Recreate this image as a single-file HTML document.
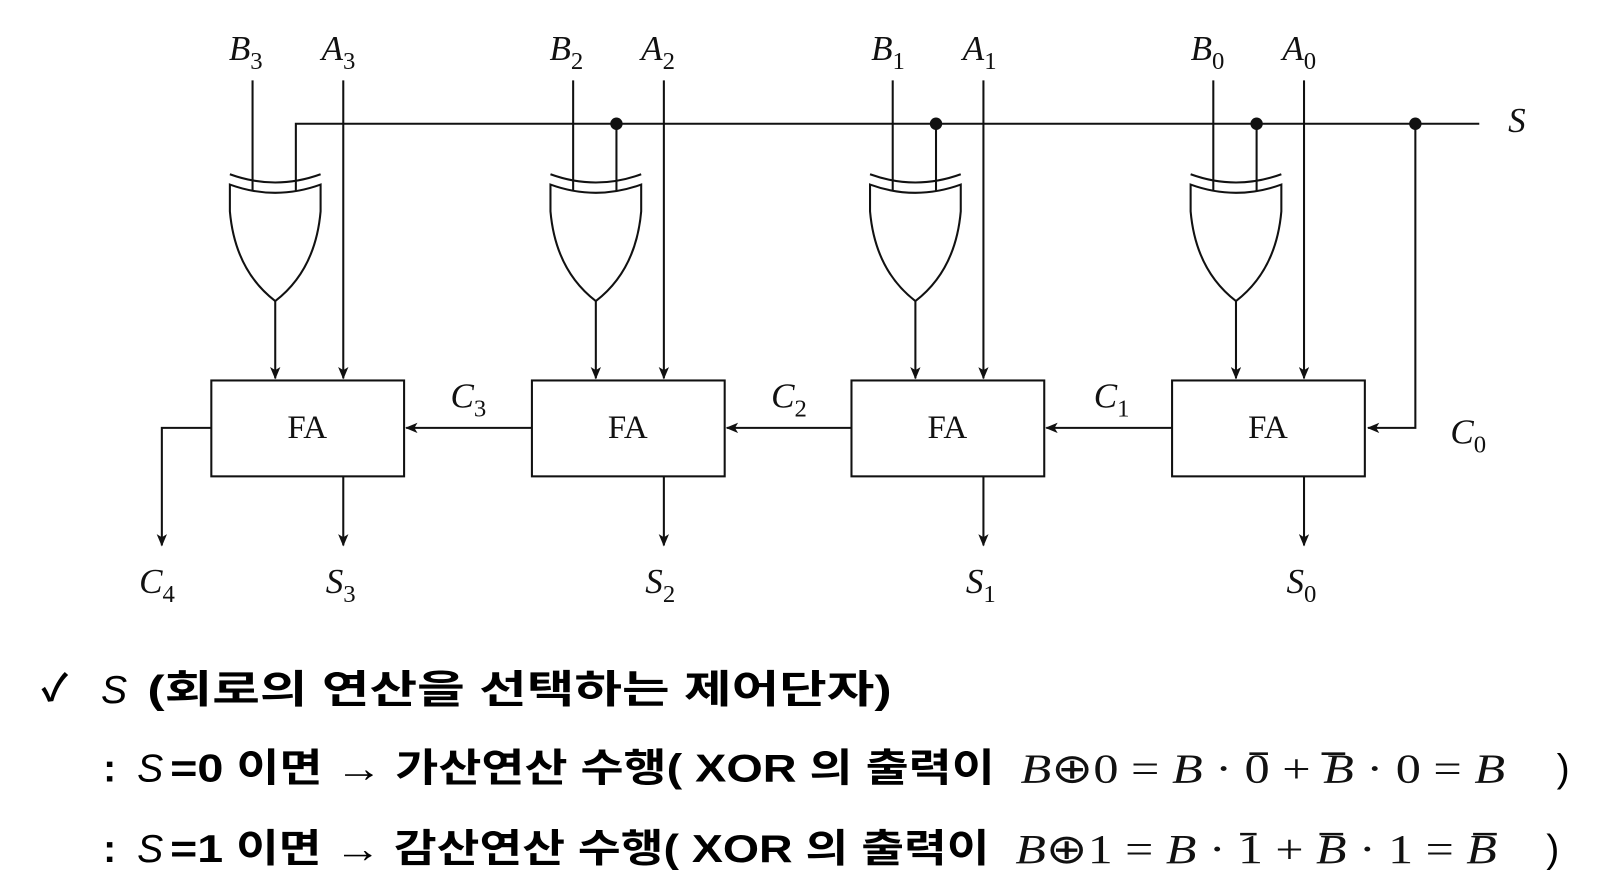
<!DOCTYPE html>
<html><head><meta charset="utf-8"><style>
html,body{margin:0;padding:0;background:#fff;}
svg{display:block;}
.ser{font-family:"Liberation Serif",serif;font-style:italic;fill:#111;}
.sub{font-family:"Liberation Serif",serif;font-style:normal;}
.ko{font-family:"Liberation Sans","Noto Sans CJK KR","NanumGothic",sans-serif;font-weight:bold;fill:#000;}
</style></head><body>
<svg width="1604" height="896" viewBox="0 0 1556 869" preserveAspectRatio="none" xmlns="http://www.w3.org/2000/svg">
<defs>
<marker id="ar" markerWidth="12" markerHeight="10" refX="11" refY="5" orient="auto" markerUnits="userSpaceOnUse">
<path d="M0,0 L12,5 L0,10 L3,5 Z" fill="#111"/></marker>
<g id="st" fill="none" stroke="#111" stroke-width="2">
<path d="M223,179 Q267,195 311,179 L311,205 Q306,262 267,292 Q228,262 223,205 Z"/>
<path d="M223,169 Q267,185 311,169"/>
<line x1="245" y1="78" x2="245" y2="185"/>
<line x1="267" y1="292" x2="267" y2="367" marker-end="url(#ar)"/>
<line x1="333" y1="78" x2="333" y2="367" marker-end="url(#ar)"/>
<rect x="205" y="369" width="187" height="93"/>
<line x1="333" y1="462" x2="333" y2="529" marker-end="url(#ar)"/>
</g>
</defs>
<use href="#st"/>
<use href="#st" x="311"/>
<use href="#st" x="621"/>
<use href="#st" x="932"/>
<g fill="none" stroke="#111" stroke-width="2">
<polyline points="287,185 287,120 1435,120"/>
<line x1="598" y1="120" x2="598" y2="185"/>
<line x1="908" y1="120" x2="908" y2="185"/>
<line x1="1219" y1="120" x2="1219" y2="185"/>
<polyline points="1373,120 1373,415 1327,415" marker-end="url(#ar)"/>
<line x1="516" y1="415" x2="394" y2="415" marker-end="url(#ar)"/>
<line x1="826" y1="415" x2="705" y2="415" marker-end="url(#ar)"/>
<line x1="1137" y1="415" x2="1015" y2="415" marker-end="url(#ar)"/>
<polyline points="205,415 157,415 157,529" marker-end="url(#ar)"/>
</g>
<g fill="#111"><circle cx="598" cy="120" r="6"/><circle cx="908" cy="120" r="6"/><circle cx="1219" cy="120" r="6"/><circle cx="1373" cy="120" r="6"/></g>
<g font-family="Liberation Serif,serif" font-size="32" fill="#111" text-anchor="middle">
<text x="298" y="425">FA</text><text x="609" y="425">FA</text><text x="919" y="425">FA</text><text x="1230" y="425">FA</text>
</g>
<g class="ser" font-size="34">
<text x="222" y="58">B<tspan class="sub" font-size="24" dy="9">3</tspan></text>
<text x="312" y="58">A<tspan class="sub" font-size="24" dy="9">3</tspan></text>
<text x="533" y="58">B<tspan class="sub" font-size="24" dy="9">2</tspan></text>
<text x="622" y="58">A<tspan class="sub" font-size="24" dy="9">2</tspan></text>
<text x="845" y="58">B<tspan class="sub" font-size="24" dy="9">1</tspan></text>
<text x="934" y="58">A<tspan class="sub" font-size="24" dy="9">1</tspan></text>
<text x="1155" y="58">B<tspan class="sub" font-size="24" dy="9">0</tspan></text>
<text x="1244" y="58">A<tspan class="sub" font-size="24" dy="9">0</tspan></text>
<text x="1463" y="128">S</text>
<text x="437" y="395">C<tspan class="sub" font-size="24" dy="9">3</tspan></text>
<text x="748" y="395">C<tspan class="sub" font-size="24" dy="9">2</tspan></text>
<text x="1061" y="395">C<tspan class="sub" font-size="24" dy="9">1</tspan></text>
<text x="1407" y="430">C<tspan class="sub" font-size="24" dy="9">0</tspan></text>
<text x="135" y="575">C<tspan class="sub" font-size="24" dy="9">4</tspan></text>
<text x="316" y="575">S<tspan class="sub" font-size="24" dy="9">3</tspan></text>
<text x="626" y="575">S<tspan class="sub" font-size="24" dy="9">2</tspan></text>
<text x="937" y="575">S<tspan class="sub" font-size="24" dy="9">1</tspan></text>
<text x="1248" y="575">S<tspan class="sub" font-size="24" dy="9">0</tspan></text>
</g>
<g class="ko" font-size="38">
<text x="40" y="680" font-size="36">✓</text>
<text x="98" y="682" font-style="italic" font-weight="normal">S</text>
<text x="143" y="682" textLength="722" lengthAdjust="spacingAndGlyphs">(회로의 연산을 선택하는 제어단자)</text>
<text x="100" y="758">:</text>
<text x="133" y="758" font-style="italic" font-weight="normal">S</text>
<text x="165" y="758" textLength="800" lengthAdjust="spacingAndGlyphs">=0 이면 → 가산연산 수행( XOR 의 출력이</text>
<text x="1510" y="758" font-weight="normal">)</text>
<text x="100" y="836">:</text>
<text x="133" y="836" font-style="italic" font-weight="normal">S</text>
<text x="165" y="836" textLength="795" lengthAdjust="spacingAndGlyphs">=1 이면 → 감산연산 수행( XOR 의 출력이</text>
<text x="1500" y="836" font-weight="normal">)</text>
</g>
<g font-family="Liberation Serif,serif" font-size="40" fill="#111">
<text x="990" y="759" textLength="470" lengthAdjust="spacingAndGlyphs"><tspan font-style="italic">B</tspan>⊕0 = <tspan font-style="italic">B</tspan> · 0 + <tspan font-style="italic">B</tspan> · 0 = <tspan font-style="italic">B</tspan></text>
<text x="985" y="837" textLength="467" lengthAdjust="spacingAndGlyphs"><tspan font-style="italic">B</tspan>⊕1 = <tspan font-style="italic">B</tspan> · 1 + <tspan font-style="italic">B</tspan> · 1 = <tspan font-style="italic">B</tspan></text>
</g>
<g stroke="#111" stroke-width="2.5">
<line x1="1212" y1="731" x2="1230" y2="731"/><line x1="1282" y1="731" x2="1305" y2="731"/>
<line x1="1203" y1="809" x2="1219" y2="809"/><line x1="1280" y1="809" x2="1303" y2="809"/><line x1="1429" y1="809" x2="1452" y2="809"/>
</g>
</svg>
</body></html>
